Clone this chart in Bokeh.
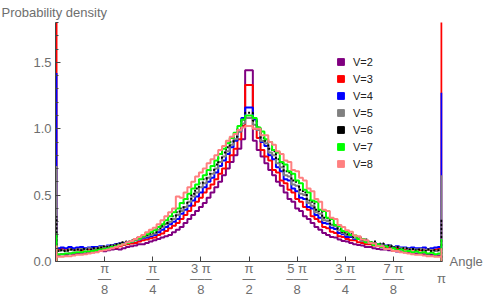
import numpy as np
from bokeh.plotting import figure
from bokeh.models import FixedTicker, Legend, LegendItem, Range1d, PrintfTickFormatter, LinearAxis
from bokeh.embed import file_html
from bokeh.resources import INLINE

# ---------------- data ----------------
series_names = ["V=2", "V=3", "V=4", "V=5", "V=6", "V=7", "V=8"]
series_colors = ["#800080", "#ff0000", "#0000ff", "#808080", "#000000", "#00ff00", "#ff8080"]
series_dash = ["solid", "solid", "solid", "solid", "2 2", "solid", "solid"]
n_bins = 100

dens_v2 = [0.050, 0.055, 0.050, 0.060, 0.055, 0.060, 0.065, 0.060, 0.070, 0.070,
           0.075, 0.080, 0.078, 0.085, 0.090, 0.095, 0.090, 0.100, 0.110, 0.115,
           0.120, 0.130, 0.130, 0.140, 0.150, 0.160, 0.170, 0.180, 0.190, 0.200,
           0.220, 0.240, 0.260, 0.290, 0.320, 0.350, 0.380, 0.410, 0.440, 0.480,
           0.520, 0.560, 0.600, 0.650, 0.700, 0.750, 0.800, 0.850, 0.920, 1.440,
           1.440, 0.910, 0.840, 0.790, 0.740, 0.690, 0.650, 0.600, 0.570, 0.520,
           0.470, 0.450, 0.400, 0.380, 0.340, 0.320, 0.290, 0.260, 0.240, 0.215,
           0.200, 0.185, 0.180, 0.165, 0.155, 0.150, 0.140, 0.130, 0.125, 0.120,
           0.110, 0.110, 0.100, 0.095, 0.090, 0.090, 0.085, 0.080, 0.075, 0.075,
           0.070, 0.065, 0.065, 0.060, 0.060, 0.055, 0.055, 0.050, 0.050, 0.045]

dens_v3 = [0.090, 0.095, 0.085, 0.090, 0.095, 0.090, 0.085, 0.095, 0.090, 0.100,
           0.095, 0.100, 0.105, 0.100, 0.110, 0.105, 0.115, 0.125, 0.130, 0.135,
           0.140, 0.150, 0.160, 0.165, 0.175, 0.180, 0.200, 0.210, 0.230, 0.250,
           0.270, 0.290, 0.320, 0.350, 0.380, 0.420, 0.450, 0.480, 0.520, 0.550,
           0.580, 0.620, 0.660, 0.700, 0.750, 0.800, 0.850, 0.920, 1.020, 1.330,
           1.330, 1.000, 0.930, 0.840, 0.790, 0.760, 0.690, 0.670, 0.610, 0.590,
           0.540, 0.520, 0.470, 0.450, 0.410, 0.390, 0.340, 0.320, 0.300, 0.260,
           0.250, 0.225, 0.215, 0.190, 0.185, 0.170, 0.160, 0.160, 0.145, 0.140,
           0.130, 0.130, 0.120, 0.120, 0.110, 0.110, 0.105, 0.100, 0.095, 0.100,
           0.090, 0.095, 0.090, 0.090, 0.085, 0.090, 0.090, 0.085, 0.090, 0.095]

dens_v4 = [0.100, 0.105, 0.100, 0.110, 0.100, 0.105, 0.110, 0.100, 0.105, 0.110,
           0.110, 0.115, 0.110, 0.120, 0.125, 0.130, 0.135, 0.140, 0.145, 0.150,
           0.160, 0.165, 0.175, 0.180, 0.190, 0.200, 0.220, 0.240, 0.260, 0.280,
           0.300, 0.320, 0.360, 0.390, 0.420, 0.460, 0.490, 0.520, 0.560, 0.600,
           0.630, 0.670, 0.720, 0.760, 0.810, 0.860, 0.910, 0.980, 1.080, 1.160,
           1.160, 1.070, 0.990, 0.900, 0.870, 0.800, 0.770, 0.710, 0.680, 0.620,
           0.610, 0.550, 0.530, 0.480, 0.470, 0.410, 0.400, 0.350, 0.330, 0.290,
           0.285, 0.255, 0.245, 0.215, 0.205, 0.185, 0.185, 0.170, 0.170, 0.155,
           0.150, 0.140, 0.140, 0.130, 0.130, 0.120, 0.120, 0.110, 0.115, 0.105,
           0.105, 0.100, 0.105, 0.100, 0.100, 0.105, 0.095, 0.100, 0.105, 0.110]

dens_v5 = [0.080, 0.085, 0.080, 0.090, 0.085, 0.090, 0.095, 0.090, 0.100, 0.095,
           0.100, 0.110, 0.105, 0.115, 0.120, 0.125, 0.130, 0.135, 0.140, 0.150,
           0.160, 0.170, 0.180, 0.190, 0.200, 0.210, 0.240, 0.260, 0.280, 0.300,
           0.320, 0.350, 0.380, 0.410, 0.450, 0.490, 0.520, 0.560, 0.590, 0.630,
           0.660, 0.700, 0.750, 0.790, 0.830, 0.880, 0.920, 0.980, 1.040, 1.080,
           1.080, 1.030, 0.990, 0.910, 0.890, 0.820, 0.800, 0.740, 0.710, 0.650,
           0.640, 0.580, 0.570, 0.510, 0.500, 0.440, 0.420, 0.370, 0.360, 0.310,
           0.305, 0.275, 0.265, 0.235, 0.215, 0.200, 0.195, 0.175, 0.175, 0.155,
           0.155, 0.140, 0.140, 0.125, 0.130, 0.115, 0.120, 0.105, 0.110, 0.100,
           0.100, 0.095, 0.095, 0.090, 0.095, 0.085, 0.090, 0.085, 0.080, 0.085]

dens_v6 = [0.080, 0.085, 0.080, 0.090, 0.085, 0.090, 0.085, 0.095, 0.090, 0.100,
           0.100, 0.105, 0.115, 0.110, 0.120, 0.130, 0.135, 0.145, 0.150, 0.160,
           0.170, 0.180, 0.190, 0.200, 0.210, 0.220, 0.250, 0.270, 0.290, 0.320,
           0.340, 0.370, 0.400, 0.440, 0.470, 0.510, 0.550, 0.590, 0.620, 0.660,
           0.690, 0.730, 0.780, 0.820, 0.860, 0.900, 0.940, 1.000, 1.070, 1.120,
           1.120, 1.060, 1.010, 0.930, 0.910, 0.850, 0.830, 0.770, 0.740, 0.680,
           0.670, 0.610, 0.600, 0.540, 0.520, 0.460, 0.450, 0.390, 0.380, 0.330,
           0.325, 0.285, 0.275, 0.245, 0.225, 0.205, 0.205, 0.185, 0.185, 0.165,
           0.165, 0.145, 0.150, 0.130, 0.135, 0.115, 0.120, 0.105, 0.110, 0.095,
           0.100, 0.090, 0.095, 0.085, 0.090, 0.080, 0.090, 0.080, 0.085, 0.085]

dens_v7 = [0.055, 0.055, 0.060, 0.060, 0.065, 0.070, 0.070, 0.075, 0.075, 0.080,
           0.085, 0.090, 0.095, 0.100, 0.110, 0.115, 0.125, 0.130, 0.140, 0.150,
           0.165, 0.175, 0.190, 0.205, 0.220, 0.235, 0.260, 0.280, 0.310, 0.340,
           0.370, 0.400, 0.440, 0.470, 0.510, 0.550, 0.580, 0.620, 0.650, 0.690,
           0.720, 0.760, 0.810, 0.850, 0.890, 0.930, 0.970, 1.020, 1.070, 1.100,
           1.100, 1.080, 1.010, 0.980, 0.920, 0.900, 0.840, 0.820, 0.750, 0.730,
           0.680, 0.660, 0.610, 0.590, 0.540, 0.520, 0.460, 0.450, 0.390, 0.380,
           0.330, 0.320, 0.275, 0.265, 0.230, 0.225, 0.200, 0.195, 0.170, 0.170,
           0.145, 0.145, 0.125, 0.130, 0.110, 0.115, 0.095, 0.100, 0.085, 0.090,
           0.075, 0.080, 0.070, 0.075, 0.065, 0.070, 0.060, 0.065, 0.055, 0.060]

dens_v8 = [0.035, 0.035, 0.040, 0.040, 0.045, 0.050, 0.050, 0.055, 0.060, 0.065,
           0.070, 0.080, 0.085, 0.090, 0.100, 0.110, 0.120, 0.130, 0.145, 0.155,
           0.170, 0.185, 0.200, 0.220, 0.240, 0.255, 0.280, 0.310, 0.340, 0.370,
           0.400, 0.490, 0.480, 0.520, 0.560, 0.600, 0.640, 0.670, 0.700, 0.740,
           0.770, 0.800, 0.840, 0.870, 0.910, 0.940, 0.960, 0.990, 1.010, 1.020,
           1.020, 1.000, 1.000, 0.950, 0.950, 0.900, 0.880, 0.830, 0.810, 0.760,
           0.750, 0.690, 0.680, 0.630, 0.610, 0.550, 0.530, 0.470, 0.450, 0.390,
           0.380, 0.330, 0.320, 0.275, 0.260, 0.235, 0.225, 0.195, 0.190, 0.165,
           0.160, 0.140, 0.135, 0.115, 0.115, 0.095, 0.095, 0.080, 0.080, 0.070,
           0.065, 0.060, 0.055, 0.050, 0.050, 0.045, 0.040, 0.040, 0.035, 0.035]

# edge spikes (angle = 0 and angle = pi), one per series
spike_at_zero = [0.0, 2.5, 1.42, 0.72, 0.34, 0.21, 0.12]
spike_at_pi = [0.0, 2.5, 1.27, 0.65, 0.32, 0.17, 0.10]

# x tick labels (multiples of pi/8), written as stacked fractions
tick_eighths = [1, 2, 3, 4, 5, 6, 7]
tick_num = ["π", "π", "3 π", "π", "5 π", "3 π", "7 π"]
tick_den = ["8", "4", "8", "2", "8", "4", "8"]
end_label = "π"
y_major = [0.0, 0.5, 1.0, 1.5]
y_minor = [0.1, 0.2, 0.3, 0.4, 0.6, 0.7, 0.8, 0.9, 1.1, 1.2, 1.3, 1.4, 1.6, 1.7, 1.8]

all_dens = [dens_v2, dens_v3, dens_v4, dens_v5, dens_v6, dens_v7, dens_v8]

# ---------------- figure ----------------
FONT = "Liberation Sans"
GRAY = "#6e6e6e"
AXC = "#444444"
PAD = 0.008  # tiny range padding so the edge spikes are not half clipped

p = figure(width=485, height=298, output_backend="svg", toolbar_location=None,
           x_range=Range1d(-PAD, np.pi + PAD), y_range=Range1d(0, 1.8),
           min_border_left=55, min_border_right=43, min_border_top=22, min_border_bottom=37,
           title="Probability density")
p.outline_line_color = None
p.xgrid.visible = False
p.ygrid.visible = False
p.background_fill_color = "white"

p.title.align = "left"
p.title.offset = -54
p.title.standoff = 5
p.title.text_font = FONT
p.title.text_font_style = "normal"
p.title.text_font_size = "13px"
p.title.text_color = GRAY

edges = np.linspace(0, np.pi, n_bins + 1)


def step_xy(vals, s0, s1):
    xs = [0.0, 0.0]
    ys = [0.0, s0]
    for i, v in enumerate(vals):
        xs += [edges[i], edges[i + 1]]
        ys += [v, v]
    xs += [np.pi, np.pi]
    ys += [s1, 0.0]
    return xs, ys


for vals, s0, s1, col, dash in zip(all_dens, spike_at_zero, spike_at_pi, series_colors, series_dash):
    xs, ys = step_xy(vals, s0, s1)
    p.line(xs, ys, line_color=col, line_width=2, line_dash=dash)

tick_vals = [k * np.pi / 8 for k in tick_eighths]


def plain_axis(ticks, labels, standoff):
    ax = LinearAxis(ticker=FixedTicker(ticks=ticks, minor_ticks=[]),
                    major_label_overrides=dict(zip(ticks, labels)),
                    axis_line_color=None, major_tick_line_color=None, minor_tick_line_color=None,
                    major_tick_in=0, major_tick_out=0, minor_tick_in=0, minor_tick_out=0,
                    major_label_standoff=standoff, major_label_text_font=FONT,
                    major_label_text_font_size="13px", major_label_text_color=GRAY)
    return ax


# main x axis: ticks + numerators
xa = p.xaxis[0]
xa.ticker = FixedTicker(ticks=tick_vals, minor_ticks=[])
xa.major_label_overrides = dict(zip(tick_vals, tick_num))
xa.major_label_standoff = -1
xa.major_label_text_font = FONT
xa.major_label_text_font_size = "13px"
xa.major_label_text_color = GRAY
xa.major_tick_in = 5
xa.major_tick_out = 0
xa.minor_tick_in = 0
xa.minor_tick_out = 0
xa.axis_line_color = AXC
xa.major_tick_line_color = AXC

# fraction bars (and the lone pi at the end), then denominators
bar_ticks = tick_vals + [np.pi]
bar_labels = ["—" if len(n) == 1 else "–––" for n in tick_num] + [end_label]
p.add_layout(plain_axis(bar_ticks, bar_labels, -8), "below")
p.add_layout(plain_axis(tick_vals, tick_den, -4), "below")

# "Angle" at the right end of the x axis
p.add_layout(plain_axis([0.0], ["Angle"], 7), "right")

ya = p.yaxis[0]
ya.ticker = FixedTicker(ticks=y_major, minor_ticks=y_minor)
ya.formatter = PrintfTickFormatter(format="%.1f")
ya.major_tick_in = 5
ya.major_tick_out = 0
ya.minor_tick_in = 3
ya.minor_tick_out = 0
ya.axis_line_color = AXC
ya.major_tick_line_color = AXC
ya.minor_tick_line_color = AXC
ya.major_label_standoff = 4
ya.major_label_text_font = FONT
ya.major_label_text_font_size = "13px"
ya.major_label_text_color = GRAY

# legend
items = []
for name, col in zip(series_names, series_colors):
    r = p.scatter(x=[np.nan], y=[np.nan], marker="square", size=7, fill_color=col, line_color=col)
    items.append(LegendItem(label=name, renderers=[r]))
legend = Legend(items=items, location=(277, 89), border_line_color=None,
                background_fill_alpha=0, padding=0, margin=0, spacing=0,
                glyph_height=17, glyph_width=17, label_height=17, label_standoff=4,
                label_text_font=FONT, label_text_font_size="11px", label_text_color="#222222")
p.add_layout(legend)

open("out.html", "w").write(file_html(p, INLINE))
